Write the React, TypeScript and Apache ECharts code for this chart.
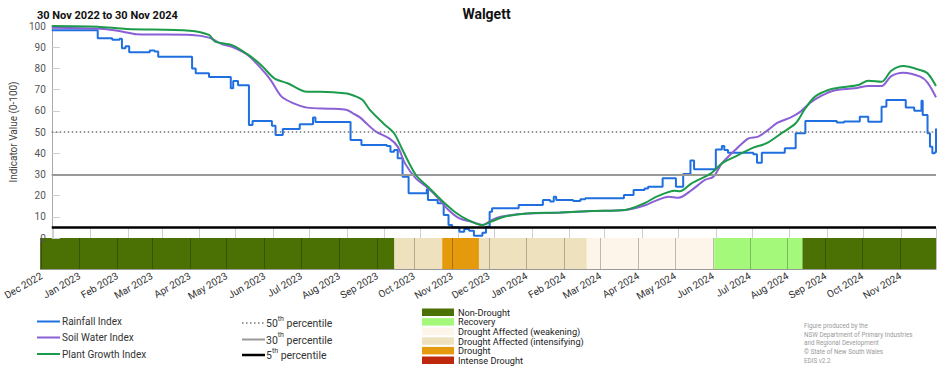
import React, { useEffect, useRef } from 'react';
import * as echarts from 'echarts';

const START = '2022-11-30';
const END = '2024-11-30';
const TITLE = 'Walgett';
const SUBTITLE = '30 Nov 2022 to 30 Nov 2024';
const Y_NAME = 'Indicator Value (0-100)';
const MONTHS = ['Jan', 'Feb', 'Mar', 'Apr', 'May', 'Jun', 'Jul', 'Aug', 'Sep', 'Oct', 'Nov', 'Dec'];

const rainfallIndex: [string, number][] = [
  ['2022-11-30', 98], ['2023-01-07', 94.2], ['2023-01-19', 93.5], ['2023-01-25', 94],
  ['2023-01-27', 89.5], ['2023-01-30', 90.5], ['2023-02-02', 87.6], ['2023-02-19', 88.5],
  ['2023-02-23', 88], ['2023-02-26', 85.5], ['2023-03-26', 80], ['2023-03-29', 77.7],
  ['2023-04-09', 76], ['2023-04-27', 70.6], ['2023-04-29', 74], ['2023-05-03', 72],
  ['2023-05-12', 53.3], ['2023-05-15', 55.2], ['2023-05-31', 53], ['2023-06-03', 48.6],
  ['2023-06-09', 51.4], ['2023-06-23', 53.6], ['2023-07-04', 56.8], ['2023-07-06', 54.7],
  ['2023-08-04', 46.2], ['2023-08-13', 43.9], ['2023-09-03', 43.4], ['2023-09-06', 40.7],
  ['2023-09-09', 41.5], ['2023-09-12', 37.6], ['2023-09-16', 28.9], ['2023-09-21', 21.1],
  ['2023-10-06', 23], ['2023-10-07', 17.9], ['2023-10-15', 16.4], ['2023-10-20', 10.8],
  ['2023-10-24', 6.1], ['2023-10-27', 5], ['2023-11-02', 3], ['2023-11-06', 4.3],
  ['2023-11-10', 3.4], ['2023-11-14', 1.1], ['2023-11-21', 2.5], ['2023-11-24', 5.3],
  ['2023-11-27', 12.4], ['2023-11-29', 14], ['2023-12-21', 15.6], ['2024-01-10', 17.9],
  ['2024-01-16', 17.2], ['2024-01-19', 19.5], ['2024-01-21', 17.9], ['2024-02-04', 17.5],
  ['2024-02-10', 18.3], ['2024-02-14', 18.7], ['2024-03-17', 20.3], ['2024-03-25', 22.6],
  ['2024-04-03', 23.4], ['2024-04-06', 24.2], ['2024-04-18', 28.2], ['2024-04-29', 24.2],
  ['2024-05-05', 30.2], ['2024-05-11', 36.5], ['2024-05-14', 32.4], ['2024-06-01', 41.8],
  ['2024-06-06', 43.4], ['2024-06-08', 41.5], ['2024-06-11', 40.2], ['2024-07-02', 39.5],
  ['2024-07-05', 35.5], ['2024-07-09', 40.2], ['2024-07-28', 42.3], ['2024-08-06', 49.4],
  ['2024-08-14', 55.2], ['2024-09-09', 54.5], ['2024-09-15', 55], ['2024-09-28', 57.2],
  ['2024-10-05', 54.8], ['2024-10-16', 61.9], ['2024-10-20', 65.1], ['2024-11-05', 61.6],
  ['2024-11-12', 60], ['2024-11-18', 64.7], ['2024-11-19', 58], ['2024-11-23', 49.4],
  ['2024-11-25', 43], ['2024-11-27', 40], ['2024-11-29', 40.5], ['2024-11-30', 51.7],
];

const soilWaterIndex: [string, number][] = [
  ['2022-11-30', 99.2], ['2023-01-12', 98.6], ['2023-01-28', 97.3], ['2023-02-08', 96.1],
  ['2023-03-26', 95.8], ['2023-04-09', 94.5], ['2023-04-20', 91.4], ['2023-04-28', 90.2],
  ['2023-05-11', 86.3], ['2023-05-22', 80], ['2023-05-30', 74.5], ['2023-06-08', 66.7],
  ['2023-06-18', 63.5], ['2023-06-29', 61.5], ['2023-07-18', 61], ['2023-08-01', 60.4],
  ['2023-08-06', 58.8], ['2023-08-12', 56.8], ['2023-08-17', 54.1], ['2023-08-25', 50.2],
  ['2023-09-05', 47], ['2023-09-12', 43.1], ['2023-09-18', 35.2], ['2023-09-27', 28.1],
  ['2023-10-05', 24.5], ['2023-10-13', 20.3], ['2023-10-24', 13.2], ['2023-11-02', 9.3],
  ['2023-11-12', 7.7], ['2023-11-21', 6.1], ['2023-11-28', 8.2], ['2023-12-06', 10],
  ['2023-12-28', 11.6], ['2024-01-24', 11.9], ['2024-02-20', 12.7], ['2024-03-18', 13.2],
  ['2024-04-03', 15.3], ['2024-04-12', 17.5], ['2024-04-23', 19.5], ['2024-05-01', 19],
  ['2024-05-12', 22.6], ['2024-05-23', 27.4], ['2024-05-30', 28.9], ['2024-06-06', 35.2],
  ['2024-06-17', 41.5], ['2024-06-28', 47], ['2024-07-06', 47.8], ['2024-07-14', 50.9],
  ['2024-07-22', 54.4], ['2024-08-02', 56.9], ['2024-08-10', 59.6], ['2024-08-18', 63.8],
  ['2024-08-26', 66.7], ['2024-09-06', 69.5], ['2024-09-24', 70.6], ['2024-10-05', 71.7],
  ['2024-10-16', 71.7], ['2024-10-24', 76.4], ['2024-11-03', 78], ['2024-11-17', 76.1],
  ['2024-11-23', 73.3], ['2024-11-30', 66.4],
];

const plantGrowthIndex: [string, number][] = [
  ['2022-11-30', 100], ['2023-01-07', 99.7], ['2023-01-31', 98.6], ['2023-03-24', 97.8],
  ['2023-04-09', 95.8], ['2023-04-14', 92.6], ['2023-04-28', 91], ['2023-05-11', 86.6],
  ['2023-05-22', 81.6], ['2023-06-02', 75.3], ['2023-06-13', 73], ['2023-06-29', 69],
  ['2023-07-10', 69], ['2023-08-01', 68.2], ['2023-08-07', 67.1], ['2023-08-14', 65.1],
  ['2023-08-20', 60.4], ['2023-08-31', 54.1], ['2023-09-09', 49.4], ['2023-09-16', 41.5],
  ['2023-09-27', 29.7], ['2023-10-07', 24.2], ['2023-10-18', 17.9], ['2023-10-29', 12.4],
  ['2023-11-09', 8.5], ['2023-11-21', 6.1], ['2023-11-28', 7.7], ['2023-12-09', 10],
  ['2023-12-28', 11.6], ['2024-01-24', 12], ['2024-02-20', 12.7], ['2024-03-18', 13.2],
  ['2024-04-03', 16.4], ['2024-04-13', 19.5], ['2024-04-28', 22.3], ['2024-05-02', 22],
  ['2024-05-12', 25.8], ['2024-05-28', 30.5], ['2024-06-06', 35.2], ['2024-06-17', 38.4],
  ['2024-07-02', 42.6], ['2024-07-13', 44.7], ['2024-07-26', 49.7], ['2024-08-06', 54.1],
  ['2024-08-14', 61.2], ['2024-08-22', 66.7], ['2024-09-02', 69.8], ['2024-09-13', 71.1],
  ['2024-09-27', 72.2], ['2024-10-05', 74.2], ['2024-10-16', 73.7], ['2024-10-24', 78.9],
  ['2024-11-03', 81.1], ['2024-11-17', 79.2], ['2024-11-23', 77.7], ['2024-11-30', 71.7],
];

const percentileValues = [50, 30, 5];
const percentileNames = ['50', '30', '5'];

const droughtCategories = [
  'Non-Drought',
  'Recovery',
  'Drought Affected (weakening)',
  'Drought Affected (intensifying)',
  'Drought',
  'Intense Drought',
];
const droughtColors = ['#4b7104', '#a4f87a', '#fdf5e9', '#ede2bd', '#e5990c', '#c0280e'];

const droughtSegments: [string, string, number][] = [
  ['2022-11-30', '2023-09-15', 0],
  ['2023-09-15', '2023-10-24', 3],
  ['2023-10-24', '2023-11-23', 4],
  ['2023-11-23', '2024-02-19', 3],
  ['2024-02-19', '2024-06-02', 2],
  ['2024-06-02', '2024-08-13', 1],
  ['2024-08-13', '2024-11-30', 0],
];

const seriesNames = ['Rainfall Index', 'Soil Water Index', 'Plant Growth Index'];
const seriesColors = ['#1f6fe0', '#8b5fd6', '#1c9b4b'];

const footerLines = [
  'Figure produced by the',
  'NSW Department of Primary Industries',
  'and Regional Development',
  '\u00A9 State of New South Wales',
  'EDIS v2.2',
];

const FONT = 'Roboto, "Noto Sans", sans-serif';
const DAY = 86400000;

const ts = (s: string) => new Date(s + 'T00:00:00').getTime();

export default function App() {
  const ref = useRef<HTMLDivElement>(null);
  useEffect(() => {
    const chart = echarts.init(ref.current!, undefined, { renderer: 'svg' });
    const monthFmt = (v: number) => {
      const d = new Date(v);
      return MONTHS[d.getMonth()] + ' ' + d.getFullYear();
    };
    const timeAxisBase = {
      type: 'time',
      min: ts(START),
      max: ts(END),
      splitNumber: 24,
      minInterval: 28 * DAY,
      maxInterval: 31 * DAY,
    };

    const legendLineStyles = [
      { stroke: '#777', lineWidth: 1.5, lineDash: [1.5, 2.5] },
      { stroke: '#999', lineWidth: 2 },
      { stroke: '#000', lineWidth: 2.5 },
    ];

    const graphic: any[] = [
      {
        type: 'text', x: 486.5, y: 14,
        style: { text: TITLE, font: `bold 14px ${FONT}`, fill: '#111', align: 'center', verticalAlign: 'middle' },
      },
      {
        type: 'text', x: 37, y: 15.5,
        style: { text: SUBTITLE, font: `bold 11px ${FONT}`, fill: '#111', align: 'left', verticalAlign: 'middle' },
      },
    ];
    seriesNames.forEach((n, i) => {
      const y = [321.5, 337.5, 354][i];
      graphic.push({ type: 'line', shape: { x1: 37, y1: y, x2: 60, y2: y }, style: { stroke: seriesColors[i], lineWidth: 2 } });
      graphic.push({ type: 'text', x: 62, y, style: { text: n, font: `10px ${FONT}`, fill: '#333', verticalAlign: 'middle' } });
    });
    percentileNames.forEach((n, i) => {
      const y = [323, 339.5, 355][i];
      graphic.push({ type: 'line', shape: { x1: 242, y1: y, x2: 265, y2: y }, style: legendLineStyles[i] });
      graphic.push({
        type: 'text', x: 266, y: y - 1,
        style: {
          text: `{n|${n}}{s|th}{n| percentile}`,
          verticalAlign: 'middle',
          rich: {
            n: { font: `10.5px ${FONT}`, fill: '#333', lineHeight: 14, verticalAlign: 'bottom' },
            s: { font: `7px ${FONT}`, fill: '#333', lineHeight: 14, verticalAlign: 'top' },
          },
        },
      });
    });
    droughtCategories.forEach((n, i) => {
      const y = 308.5 + i * 9.6;
      graphic.push({ type: 'rect', shape: { x: 422, y, width: 32, height: 7.5 }, style: { fill: droughtColors[i] } });
      graphic.push({ type: 'text', x: 458, y: y + 3.8, style: { text: n, font: `9.2px ${FONT}`, fill: '#222', verticalAlign: 'middle' } });
    });
    footerLines.forEach((t, i) => {
      graphic.push({ type: 'text', x: 804, y: 326 + i * 8.7, style: { text: t, font: `6.3px ${FONT}`, fill: '#9a9a9a', verticalAlign: 'middle' } });
    });

    const lineSeries = [rainfallIndex, soilWaterIndex, plantGrowthIndex].map((d, i) => ({
      type: 'line',
      name: seriesNames[i],
      xAxisIndex: 0,
      yAxisIndex: 0,
      data: d,
      step: i === 0 ? 'end' : false,
      smooth: i === 0 ? false : 0.3,
      showSymbol: false,
      symbol: 'none',
      lineStyle: { color: seriesColors[i], width: 2 },
      z: 3 + i,
      ...(i === 0
        ? {
            markLine: {
              silent: true,
              symbol: ['none', 'none'],
              label: { show: false },
              data: percentileValues.map((v, k) => ({
                yAxis: v,
                lineStyle: k === 0
                  ? { type: [1.5, 2.5], color: '#777', width: 1.5 }
                  : k === 1
                  ? { type: 'solid', color: '#999', width: 2 }
                  : { type: 'solid', color: '#000', width: 2.5 },
              })),
            },
          }
        : {}),
    }));

    const option: any = {
      animation: false,
      backgroundColor: '#fff',
      textStyle: { fontFamily: FONT },
      grid: [
        { left: 37, right: 16, top: 26, height: 212 },
        { left: 37, right: 16, top: 238, height: 31 },
      ],
      xAxis: [
        {
          ...timeAxisBase,
          gridIndex: 0,
          axisLine: { show: false },
          axisLabel: { show: false },
          axisTick: { show: true, inside: true, length: 10, lineStyle: { color: '#cfcfcf' } },
          splitLine: { show: false },
        },
        {
          ...timeAxisBase,
          gridIndex: 1,
          axisLine: { show: true, lineStyle: { color: '#999' } },
          axisTick: { show: false },
          splitLine: { show: true, lineStyle: { color: 'rgba(0,0,0,0.25)', width: 1 } },
          axisLabel: { rotate: 30, fontSize: 10, color: '#333', margin: 6, formatter: monthFmt, fontFamily: FONT },
        },
      ],
      yAxis: [
        {
          type: 'value',
          gridIndex: 0,
          min: 0,
          max: 100,
          interval: 10,
          name: Y_NAME,
          nameLocation: 'middle',
          nameGap: 25,
          nameTextStyle: { fontSize: 10, color: '#444', fontFamily: FONT },
          axisLine: { show: true, lineStyle: { color: '#aaa' } },
          axisTick: { show: true, inside: true, length: 8, lineStyle: { color: '#ccc' } },
          splitLine: { show: false },
          axisLabel: { fontSize: 10, color: '#555', margin: 6, fontFamily: FONT },
        },
        { type: 'value', gridIndex: 1, min: 0, max: 1, show: false },
      ],
      graphic,
      series: [
        {
          type: 'custom',
          name: 'Drought status',
          xAxisIndex: 1,
          yAxisIndex: 1,
          z: -1,
          data: droughtSegments.map((s) => [ts(s[0]), ts(s[1]), s[2]]),
          encode: { x: [0, 1] },
          renderItem: (params: any, api: any) => {
            const a = api.coord([api.value(0), 1]);
            const b = api.coord([api.value(1), 0]);
            return {
              type: 'rect',
              shape: { x: a[0], y: a[1], width: b[0] - a[0], height: b[1] - a[1] },
              style: { fill: droughtColors[api.value(2)] },
            };
          },
        },
        ...lineSeries,
      ],
    };
    chart.setOption(option);
    return () => chart.dispose();
  }, []);
  return <div ref={ref} style={{ position: 'fixed', left: 0, top: 0, width: 952, height: 370 }} />;
}
